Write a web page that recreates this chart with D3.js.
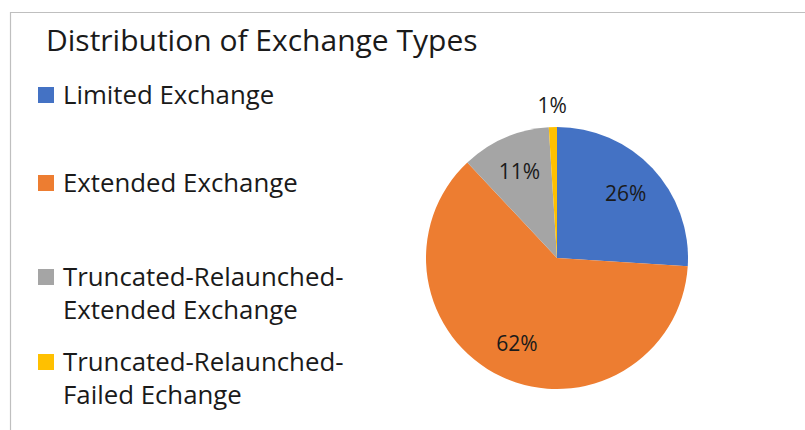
<!DOCTYPE html>
<html>
<head>
<meta charset="utf-8">
<script src="https://cdn.jsdelivr.net/npm/d3@7"></script>
<style>
  html, body { margin: 0; padding: 0; background: #fff; }
  svg { display: block; }
  text { font-family: "Open Sans", "Noto Sans", sans-serif; fill: #1a1a1a; }
</style>
</head>
<body>
<svg id="chart" width="805" height="430"></svg>
<script>
// Exchange types and their share of all exchanges (percent)
const categories = [
  "Limited Exchange",
  "Extended Exchange",
  "Truncated-Relaunched-Extended Exchange",
  "Truncated-Relaunched-Failed Echange"
];
const legendLines = [
  ["Limited Exchange"],
  ["Extended Exchange"],
  ["Truncated-Relaunched-", "Extended Exchange"],
  ["Truncated-Relaunched-", "Failed Echange"]
];
const shares = [26, 62, 11, 1];
const colors = ["#4472c4", "#ed7d31", "#a5a5a5", "#ffc000"];
const title = "Distribution of Exchange Types";

const svg = d3.select("#chart");

// chart frame
svg.append("path")
  .attr("d", "M10.5,430 V12.5 H805")
  .attr("fill", "none")
  .attr("stroke", "#bfbfbf")
  .attr("stroke-width", 1.2);

svg.append("text")
  .attr("x", 46)
  .attr("y", 51)
  .attr("font-size", 30)
  .text(title);

// legend
const legendY = [95, 183, 277, 362];
const legend = svg.append("g");
categories.forEach((c, i) => {
  const g = legend.append("g").attr("transform", `translate(38,${legendY[i]})`);
  g.append("rect")
    .attr("x", 0).attr("y", -8)
    .attr("width", 16).attr("height", 16)
    .attr("fill", colors[i]);
  legendLines[i].forEach((line, j) => {
    g.append("text")
      .attr("x", 25)
      .attr("y", j * 33)
      .attr("dy", "0.35em")
      .attr("font-size", 25.8)
      .text(line);
  });
});

// pie
const cx = 557, cy = 258, r = 131;
const pie = d3.pie().sort(null).value(d => d)(shares);
const arc = d3.arc().innerRadius(0).outerRadius(r);
const g = svg.append("g").attr("transform", `translate(${cx},${cy})`);
g.selectAll("path.slice")
  .data(pie)
  .join("path")
  .attr("class", "slice")
  .attr("d", arc)
  .attr("fill", (d, i) => colors[i]);

// value labels: inside for large slices, outside for the tiny one
const labelArc = d3.arc().innerRadius(r * 0.72).outerRadius(r * 0.72);
const outerArc = d3.arc().innerRadius(r * 1.16).outerRadius(r * 1.16);
g.selectAll("text.val")
  .data(pie)
  .join("text")
  .attr("class", "val")
  .attr("transform", d => {
    const p = (d.data < 5 ? outerArc : labelArc).centroid(d);
    return `translate(${p[0]},${p[1]})`;
  })
  .attr("text-anchor", "middle")
  .attr("dy", "0.35em")
  .attr("font-size", 21)
  .text(d => d.data + "%");
</script>
</body>
</html>
